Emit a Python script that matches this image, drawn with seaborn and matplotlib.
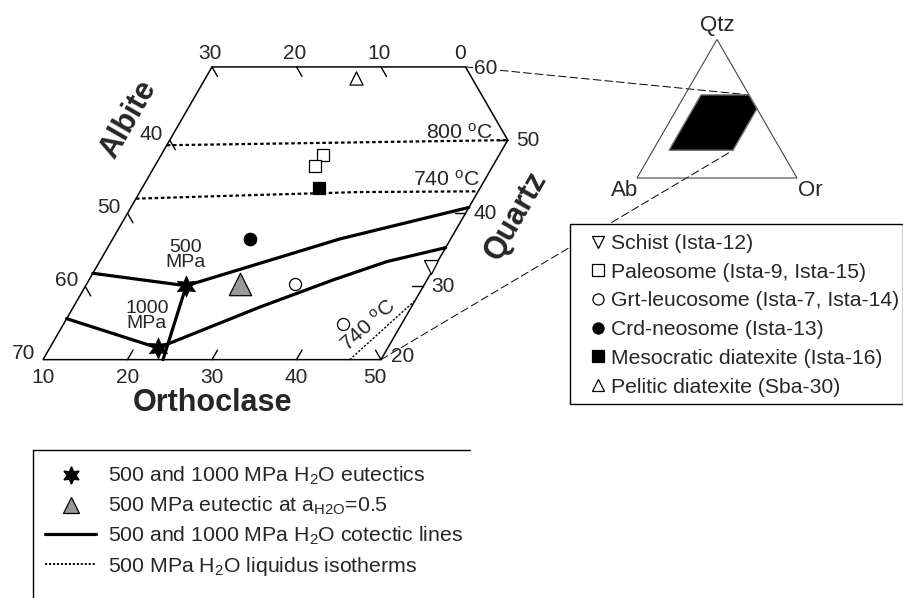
import numpy as np
import matplotlib
matplotlib.use("Agg")
import matplotlib.pyplot as plt
import seaborn as sns
from matplotlib.patches import Polygon, Rectangle, ConnectionPatch
from matplotlib.lines import Line2D

sns.set_theme(style="white")
plt.rcParams['font.family'] = ['Liberation Sans', 'DejaVu Sans']
plt.rcParams['mathtext.fontset'] = 'custom'
plt.rcParams['mathtext.rm'] = 'Liberation Sans'
plt.rcParams['mathtext.it'] = 'Liberation Sans:italic'
plt.rcParams['mathtext.bf'] = 'Liberation Sans:bold'

# ---------------- data (wt% normative Qtz and Or; Ab = 100 - Qtz - Or) ----------------
schist_qtz = [32.6];             schist_or = [49.6]
paleo_qtz = [48.0, 46.4];        paleo_or = [29.1, 29.0]
grt_qtz = [30.4, 24.9];          grt_or = [34.6, 43.0]
crd_qtz = [36.5];                crd_or = [26.3]
meso_qtz = [43.5];               meso_or = [30.9]
pelitic_qtz = [58.5];            pelitic_or = [27.8]

eut_qtz = [30.1, 21.6];          eut_or = [21.9, 22.8]      # 500, 1000 MPa
eut05_qtz = [30.4];              eut05_or = [28.1]

cot500_ab_qtz = [31.8, 30.1];                 cot500_ab_or = [10, 21.9]
cot500_or_qtz = [30.1, 36.5, 40.8];           cot500_or_or = [21.9, 36.9, 50]
cot500_down_qtz = [30.1, 20.0];               cot500_down_or = [21.9, 24.2]
cot1000_ab_qtz = [25.6, 21.6];                cot1000_ab_or = [10, 22.8]
cot1000_or_qtz = [21.6, 27.2, 30.9, 33.4, 35.3]
cot1000_or_or = [22.8, 32.1, 38.9, 44.0, 50]

iso800_qtz = [49.3, 50.0];                    iso800_or = [10, 50]
iso740_qtz = [42.0, 42.5, 42.9, 43.0];        iso740_or = [10, 24, 36, 50]
iso740b_qtz = [20.0, 28.1];                   iso740b_or = [46.3, 50]

frame_qtz = [60, 60, 50, 20, 20];             frame_or = [10, 40, 50, 50, 10]

ab_top_ticks = [30, 20, 10, 0]
ab_left_ticks = [40, 50, 60, 70]
or_bottom_ticks = [10, 20, 30, 40, 50]
qtz_right_ticks = [60, 50, 40, 30, 20]

legend_samples = ["Schist (Ista-12)", "Paleosome (Ista-9, Ista-15)",
                  "Grt-leucosome (Ista-7, Ista-14)", "Crd-neosome (Ista-13)",
                  "Mesocratic diatexite (Ista-16)", "Pelitic diatexite (Sba-30)"]
legend_lines = [r"500 and 1000 MPa H$_2$O eutectics",
                r"500 MPa eutectic at a$_{\mathrm{H2O}}$=0.5",
                r"500 and 1000 MPa H$_2$O cotectic lines",
                r"500 MPa H$_2$O liquidus isotherms"]


def T(q, o):
    q = np.asarray(q, dtype=float)
    o = np.asarray(o, dtype=float)
    return o + q / 2.0, q * np.sqrt(3) / 2.0


W, H = 904, 598
S, X0, Y0 = 8.45, -126.0, 506.0


def F(px, py):
    return px / W, 1 - py / H


fig = plt.figure(figsize=(W / 100, H / 100), dpi=100)
fig.patch.set_facecolor("white")
ax = fig.add_axes([0, 0, 1, 1])
ax.set_xlim((0 - X0) / S, (W - X0) / S)
ax.set_ylim((Y0 - H) / S, Y0 / S)
ax.axis("off")

# frame
fx, fy = T(frame_qtz, frame_or)
ax.add_patch(Polygon(np.column_stack([fx, fy]), closed=True, fill=False,
                     edgecolor="black", lw=1.1, zorder=2))

# ticks
L = 1.3
d_ab = np.array([0.5, -np.sqrt(3) / 2])
d_or = np.array([0.5, np.sqrt(3) / 2])
d_q = np.array([-1.0, 0.0])
ticks = []
ticks += [(60, 40 - a, d_ab) for a in ab_top_ticks[:3]]
ticks += [(90 - a, 10, d_ab) for a in ab_left_ticks[:3]]
ticks += [(20, o, d_or) for o in or_bottom_ticks[1:4]]
ticks += [(20, 50, -d_ab)]
ticks += [(q, 50, d_q) for q in qtz_right_ticks[1:4]]
for q, o, d in ticks:
    x, y = T(q, o)
    ax.plot([x, x + L * d[0]], [y, y + L * d[1]], color="black", lw=1.0, zorder=2)

tfs = 15
for a in ab_top_ticks:
    ax.annotate(str(a), T(60, 40 - a), xytext=(-2 if a else -5, 13),
                textcoords="offset pixels", ha="center", va="center", fontsize=tfs)
for a in ab_left_ticks:
    ax.annotate(str(a), T(90 - a, 10), xytext=(-19, 6),
                textcoords="offset pixels", ha="center", va="center", fontsize=tfs)
for o in or_bottom_ticks:
    ax.annotate(str(o), T(20, o), xytext=(-6 if o == 50 else 0, -18),
                textcoords="offset pixels", ha="center", va="center", fontsize=tfs)
for q in qtz_right_ticks:
    off = {60: (20, -2), 20: (22, 3)}.get(q, (20, 0))
    kw = dict(bbox=dict(facecolor="white", edgecolor="none", pad=0.5)) if q == 60 else {}
    ax.annotate(str(q), T(q, min(50, 100 - q)), xytext=off, zorder=3,
                textcoords="offset pixels", ha="center", va="center", fontsize=tfs, **kw)

# axis titles
ax.text(*F(128, 119), "Albite", transform=fig.transFigure, rotation=60,
        ha="center", va="center", fontsize=22, fontweight="bold")
ax.text(*F(213, 403), "Orthoclase", transform=fig.transFigure,
        ha="center", va="center", fontsize=22, fontweight="bold")
ax.text(*F(516, 216), "Quartz", transform=fig.transFigure, rotation=60,
        ha="center", va="center", fontsize=22, fontweight="bold")

# isotherms
dot = (0, (1.6, 1.2))
for q, o, lw in [(iso800_qtz, iso800_or, 1.6), (iso740_qtz, iso740_or, 1.6),
                 (iso740b_qtz, iso740b_or, 1.0)]:
    x, y = T(q, o)
    sns.lineplot(x=x, y=y, sort=False, estimator=None, color="black", lw=lw,
                 linestyle=dot, ax=ax, zorder=2)
deg = r"$^{\mathrm{o}}$"
ax.text(*F(493, 133), "800 " + deg + "C", transform=fig.transFigure,
        ha="right", va="center", fontsize=15.3)
ax.text(*F(480, 180), "740 " + deg + "C", transform=fig.transFigure,
        ha="right", va="center", fontsize=15.3)
ax.text(*F(368, 325), "740 " + deg + "C", transform=fig.transFigure, rotation=42,
        ha="center", va="center", fontsize=15.3)

# cotectic lines
for q, o in [(cot500_ab_qtz, cot500_ab_or), (cot500_or_qtz, cot500_or_or),
             (cot500_down_qtz, cot500_down_or), (cot1000_ab_qtz, cot1000_ab_or),
             (cot1000_or_qtz, cot1000_or_or)]:
    x, y = T(q, o)
    sns.lineplot(x=x, y=y, sort=False, estimator=None, color="black", lw=2.3,
                 ax=ax, zorder=3)

# eutectics
star = (6, 1, 0)
x, y = T(eut_qtz, eut_or)
sns.scatterplot(x=x, y=y, marker=star, s=230, color="black", edgecolor="black",
                linewidth=0.5, ax=ax, zorder=5)
x, y = T(eut05_qtz, eut05_or)
sns.scatterplot(x=x, y=y, marker="^", s=260, color="#999999", edgecolor="black",
                linewidth=0.9, ax=ax, zorder=5)
ax.text(*F(186, 255), "500\nMPa", transform=fig.transFigure, ha="center",
        va="center", fontsize=14, linespacing=0.9)
ax.text(*F(147, 316), "1000\nMPa", transform=fig.transFigure, ha="center",
        va="center", fontsize=14, linespacing=0.9)

# samples
samples = [
    (schist_qtz, schist_or, "v", 100, "white"),
    (paleo_qtz, paleo_or, "s", 64, "white"),
    (grt_qtz, grt_or, "o", 75, "white"),
    (crd_qtz, crd_or, "o", 80, "black"),
    (meso_qtz, meso_or, "s", 75, "black"),
    (pelitic_qtz, pelitic_or, "^", 90, "white"),
]
for q, o, m, s, fc in samples:
    x, y = T(q, o)
    sns.scatterplot(x=x, y=y, marker=m, s=s, color=fc, edgecolor="black",
                    linewidth=0.9, ax=ax, zorder=6)

# inset ternary
axin = fig.add_axes([617 / W, 1 - 190 / H, 200 / W, 170 / H])
axin.set_xlim(-12.5, 112.5)
axin.set_ylim(-7.5, 98.75)
axin.axis("off")
axin.patch.set_alpha(0)
tx, ty = T([100, 0, 0], [0, 0, 100])
axin.add_patch(Polygon(np.column_stack([tx, ty]), closed=True, fill=False,
                       edgecolor="#444444", lw=0.8))
axin.add_patch(Polygon(np.column_stack([fx, fy]), closed=True, facecolor="black",
                       edgecolor="#777777", lw=1.0))
ax.text(*F(717, 25), "Qtz", transform=fig.transFigure, ha="center", va="center", fontsize=16)
ax.text(*F(625, 190), "Ab", transform=fig.transFigure, ha="center", va="center", fontsize=16)
ax.text(*F(810, 190), "Or", transform=fig.transFigure, ha="center", va="center", fontsize=16)

for q, o in [(60, 40), (20, 50)]:
    con = ConnectionPatch(xyA=T(q, o), coordsA="data", axesA=ax,
                          xyB=T(q, o), coordsB="data", axesB=axin,
                          linestyle=(0, (8, 4)), lw=0.7, color="black", zorder=1)
    ax.add_artist(con)

# sample legend
x0, y0 = F(570, 404)
ax.add_patch(Rectangle((x0, y0), 333 / W, 180 / H, transform=fig.transFigure,
                       facecolor="white", edgecolor="black", lw=1.0, zorder=8))
h1 = [Line2D([], [], ls="none", marker=m, ms=8, mfc=fc, mec="black", mew=0.9)
      for (_, _, m, _, fc) in samples]
fig.legend(h1, legend_samples, loc="upper left", bbox_to_anchor=F(587, 234),
           frameon=False, fontsize=15.2, handlelength=1.0, handletextpad=0.13,
           labelspacing=0.46, borderpad=0, borderaxespad=0)

# line legend
ax.plot([F(33, 0)[0], F(470, 0)[0]], [F(0, 450)[1]] * 2, transform=fig.transFigure,
        color="black", lw=1.0, zorder=8)
ax.plot([F(33, 0)[0]] * 2, [F(0, 450)[1], 0], transform=fig.transFigure,
        color="black", lw=1.0, zorder=8)
h2 = [Line2D([], [], ls="none", marker=star, ms=12.5, mfc="black", mec="black"),
      Line2D([], [], ls="none", marker="^", ms=12, mfc="#999999", mec="black", mew=0.9),
      Line2D([], [], color="black", lw=2.3),
      Line2D([], [], color="black", lw=1.3, ls=(0, (1.2, 1.0)))]
fig.legend(h2, legend_lines, loc="upper left", bbox_to_anchor=F(45, 465),
           frameon=False, fontsize=15.3, handlelength=2.4, handletextpad=0.55,
           labelspacing=0.36, borderpad=0, borderaxespad=0)

fig.savefig("out.png", dpi=100)
